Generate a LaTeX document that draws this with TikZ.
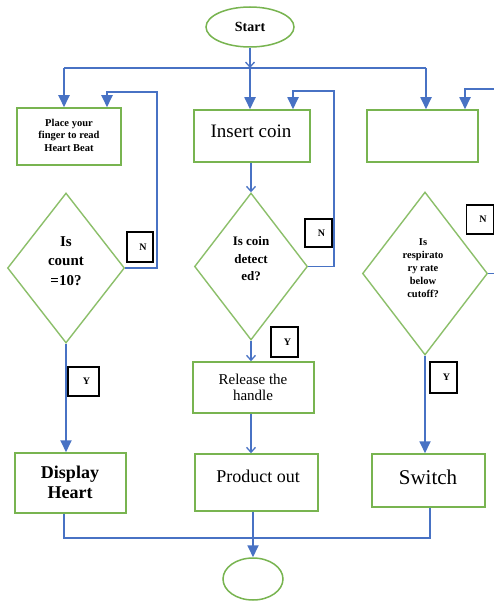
\documentclass[tikz,border=0pt]{standalone}
\usepackage{fontspec}
\setmainfont{Liberation Serif}
\usetikzlibrary{shapes.geometric,arrows.meta}
\definecolor{boxgreen}{RGB}{120,180,80}
\definecolor{lineblue}{RGB}{72,114,196}
\tikzset{
  box/.style={draw=boxgreen,line width=1.5pt,rectangle,inner sep=0pt},
  dia/.style={draw=boxgreen!85,line width=1.4pt,diamond,inner sep=0pt},
  ell/.style={draw=boxgreen,line width=1.5pt,ellipse,inner sep=0pt},
  tag/.style={draw=black,line width=1.5pt,rectangle,inner sep=0pt,font=\bfseries\fontsize{10}{11}\selectfont},
  link/.style={draw=lineblue,line width=1.8pt},
  farr/.style={link,-{Triangle[width=11pt,length=12pt]}},
  oarr/.style={link,-{Straight Barb[width=9pt,length=5pt,line width=1.3pt]}},
  txt/.style={align=center,inner sep=0pt}
}
\begin{document}
\begin{tikzpicture}[x=1pt,y=-1pt]
\useasboundingbox (0,0) rectangle (494,601);
\clip (0,0) rectangle (494,601);
\fill[white] (0,0) rectangle (494,601);
% shapes
\node[ell,minimum width=88pt,minimum height=40pt] (start) at (250,27) {\bfseries\fontsize{14}{16}\selectfont Start};
\node[box,minimum width=104pt,minimum height=57pt] (place) at (69,136.5) {};
\node[txt,font=\bfseries\fontsize{10.5}{12.5}\selectfont] (tplace) at (69,135) {Place your\\finger to read\\Heart Beat};
\node[box,minimum width=116pt,minimum height=52pt] (insert) at (252,136) {};
\node[txt,font=\fontsize{19}{21}\selectfont] (tinsert) at (251,131) {Insert coin};
\node[box,minimum width=111pt,minimum height=52pt] (blank) at (422.5,136) {};
\node[dia,minimum width=117pt,minimum height=150pt] (d1) at (66,268) {};
\node[txt,font=\bfseries\fontsize{15}{19.5}\selectfont] (td1) at (66,261) {Is\\count\\=10?};
\node[dia,minimum width=113pt,minimum height=147pt] (d2) at (251,266.5) {};
\node[txt,font=\bfseries\fontsize{13}{17.5}\selectfont] (td2) at (251,259) {Is coin\\detect\\ed?};
\node[dia,minimum width=125pt,minimum height=163pt] (d3) at (425,273.5) {};
\node[txt,font=\bfseries\fontsize{10.5}{13}\selectfont] (td3) at (423,268) {Is\\respirato\\ry rate\\below\\cutoff?};
\node[box,minimum width=121pt,minimum height=51pt] (release) at (253.5,387.5) {};
\node[txt,font=\fontsize{15}{16}\selectfont] (trelease) at (253,387) {Release the\\handle};
\node[box,minimum width=111pt,minimum height=60pt] (disp) at (70.5,483) {};
\node[txt,font=\bfseries\fontsize{18}{20}\selectfont] (tdisp) at (70,482) {Display\\Heart};
\node[box,minimum width=123pt,minimum height=57pt] (prod) at (256.5,482.5) {};
\node[txt,font=\fontsize{18}{20}\selectfont] (tprod) at (258,476) {Product out};
\node[box,minimum width=113pt,minimum height=53pt] (switch) at (428.5,480.5) {};
\node[txt,font=\fontsize{21}{23}\selectfont] (tswitch) at (428,477) {Switch};
\node[ell,minimum width=60pt,minimum height=42pt] (end) at (253,579) {};
% tags
\node[tag,minimum width=26pt,minimum height=30pt] (n1) at (140,247) {\hspace*{6pt}N};
\node[tag,minimum width=27pt,minimum height=28pt] (n2) at (318.5,233) {\hspace*{6pt}N};
\node[tag,minimum width=27pt,minimum height=29pt] (n3) at (480,219.5) {\hspace*{6pt}N};
\node[tag,minimum width=27pt,minimum height=30pt] (y2) at (284.5,342) {\hspace*{6pt}Y};
\node[tag,minimum width=31pt,minimum height=29pt] (y1) at (83.5,381.5) {\hspace*{6pt}Y};
\node[tag,minimum width=27pt,minimum height=31pt] (y3) at (443.5,377.5) {\hspace*{6pt}Y};
% coordinates
\coordinate (sj) at (250,68);
\coordinate (hl) at (64,68);
\coordinate (hr) at (426,68);
\coordinate (l1a) at (157,92);
\coordinate (l1b) at (107,92);
\coordinate (l2a) at (334,91);
\coordinate (l2b) at (293,91);
\coordinate (l3a) at (497,89);
\coordinate (l3b) at (465,89);
\coordinate (bl) at (64,538);
\coordinate (br) at (430,538);
\coordinate (bm) at (253,538);
% connectors
\draw[oarr] (start.south) -- (sj);
\draw[link] (hl) -- (hr);
\draw[farr] (hl) -- (hl |- place.north);
\draw[farr] (sj) -- (sj |- insert.north);
\draw[farr] (hr) -- (hr |- blank.north);
\draw[farr] (d1.east) -| (l1a) -- (l1b) -- (l1b |- place.north);
\draw[farr] (d2.east) -| (l2a) -- (l2b) -- (l2b |- insert.north);
\draw[farr] (d3.east) -| (l3a) -- (l3b) -- (l3b |- blank.north);
\draw[oarr] (d2.north |- insert.south) -- (d2.north);
\draw[oarr] (d2.south) -- (d2.south |- release.north);
\draw[oarr] (d2.south |- release.south) -- (d2.south |- prod.north);
\draw[farr] (d1.south) -- (d1.south |- disp.north);
\draw[farr] (d3.south) -- (d3.south |- switch.north);
\draw[link] (bl |- disp.south) -- (bl) -- (br) -- (br |- switch.south);
\draw[link] (bm |- prod.south) -- (bm);
\draw[farr] (bm) -- (end.north);
\end{tikzpicture}
\end{document}
